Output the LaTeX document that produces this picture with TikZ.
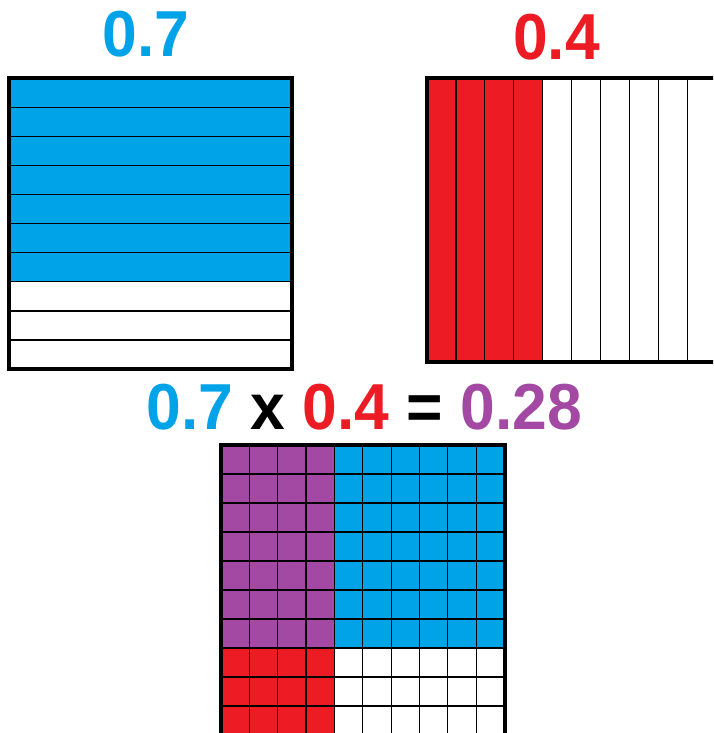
\documentclass[tikz,border=0pt]{standalone}
\usepackage{fontspec}
\setmainfont{Liberation Sans}
\definecolor{pblue}{HTML}{00A2E8}
\definecolor{pred}{HTML}{ED1C24}
\definecolor{ppurple}{HTML}{A349A4}
\begin{document}
\begin{tikzpicture}[x=1pt,y=-1pt,
  lbl/.style={font=\fontsize{65}{65}\selectfont\bfseries, inner sep=0pt, xscale=0.96},
  thinline/.style={line width=1.2pt, draw=black},
  border/.style={line width=4pt, draw=black}]
\useasboundingbox (0,0) rectangle (713,733);
\clip (0,0) rectangle (713,733);
\fill[white] (0,0) rectangle (713,733);

% labels
\node[lbl, text=pblue] (lblA) at (146,34) {0.7};
\node[lbl, text=pred] (lblB) at (556.5,37.5) {0.4};
\node[lbl] (eq) at (364.5,407.5) {{\color{pblue}0.7} x {\color{pred}0.4} = {\color{ppurple}0.28}};

% blue box (0.7)
\fill[pblue] (9,78.5) rectangle (292,78.5+7*29.05);
\foreach \i in {1,...,9} \draw[thinline] (9,78.5+\i*29.05) -- (292,78.5+\i*29.05);
\draw[border] (9,78.5) rectangle (292,369);

% red box (0.4)
\fill[pred] (427,78) rectangle (427+4*28.9,361.5);
\foreach \i in {1,...,9} \draw[thinline] (427+\i*28.9,78) -- (427+\i*28.9,361.5);
\draw[border] (427,78) rectangle (716,361.5);

% product grid
\fill[ppurple] (221,445) rectangle (221+4*28.35,445+7*29);
\fill[pblue] (221+4*28.35,445) rectangle (504.5,445+7*29);
\fill[pred] (221,445+7*29) rectangle (221+4*28.35,735);
\foreach \i in {1,...,9} \draw[thinline] (221+\i*28.35,445) -- (221+\i*28.35,735);
\foreach \i in {1,...,9} \draw[thinline] (221,445+\i*29) -- (504.5,445+\i*29);
\draw[border] (221,445) rectangle (504.5,735);
\end{tikzpicture}
\end{document}
